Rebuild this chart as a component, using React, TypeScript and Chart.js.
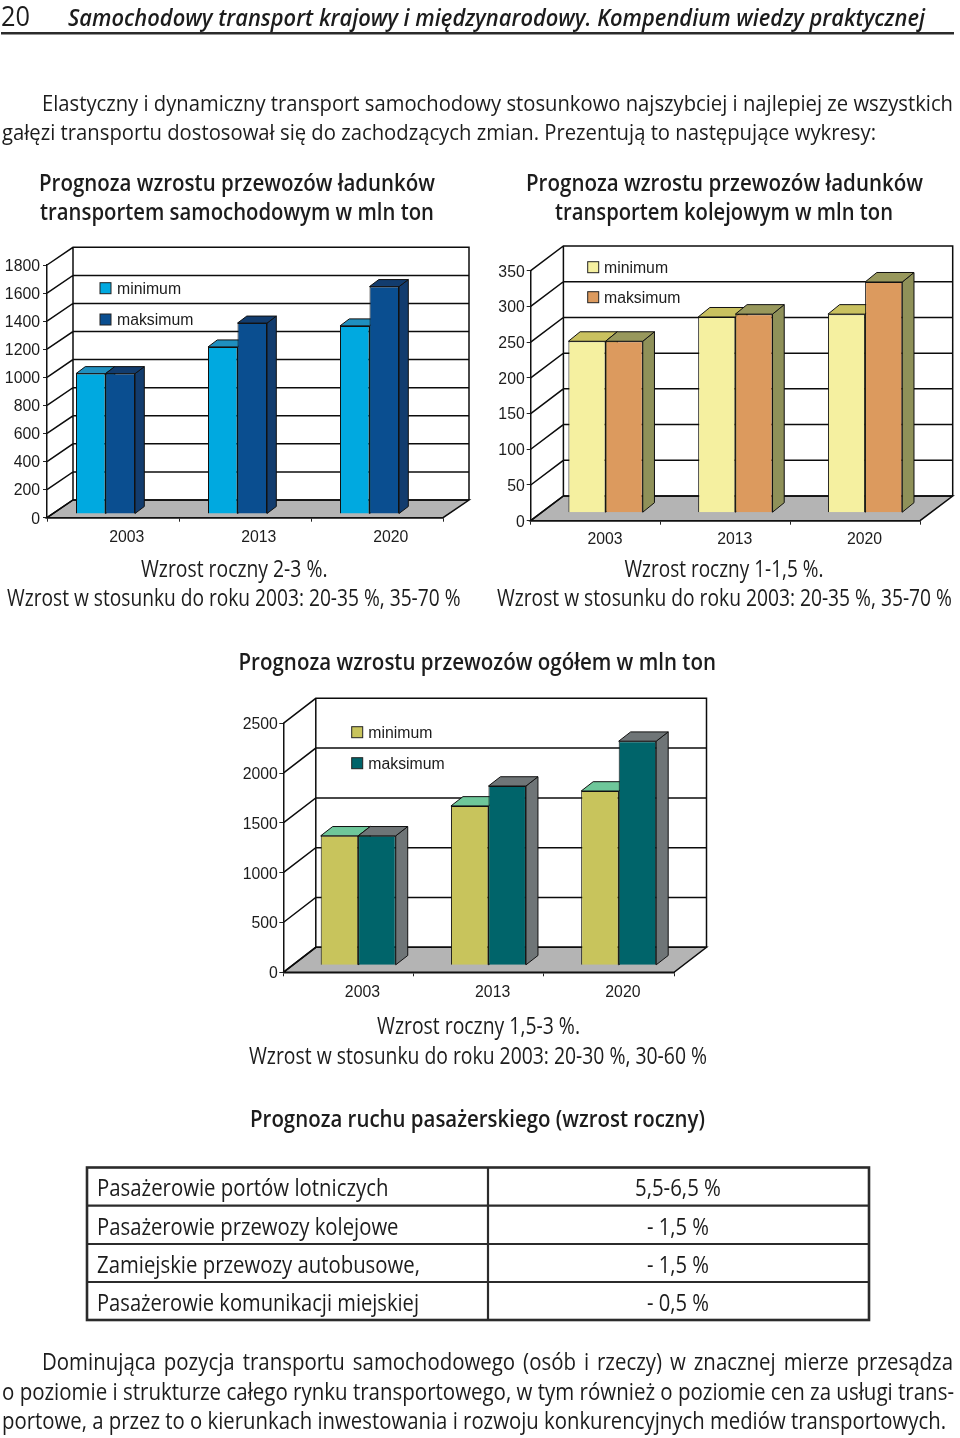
import React, { useEffect, useRef } from "react";
import { Chart, registerables } from "chart.js";

Chart.register(...registerables);

const years = ["2003", "2013", "2020"];
const seriesNames = ["minimum", "maksimum"];

const roadMin = [1000, 1190, 1340];
const roadMax = [1000, 1360, 1620];
const roadTicks = { max: 1800, step: 200 };

const railMin = [240, 274, 278];
const railMax = [240, 278, 323];
const railTicks = { max: 350, step: 50 };

const totalMin = [1300, 1600, 1750];
const totalMax = [1300, 1800, 2250];
const totalTicks = { max: 2500, step: 500 };

type Face = { front: string; top: string; side: string };

const depthPlugin = {
  id: "depth3d",
  beforeDraw(chart: any, _a: any, o: any) {
    const { ctx, chartArea: c, scales } = chart;
    const { dx, dy } = o.wall;
    ctx.save();
    ctx.fillStyle = "#fff";
    ctx.fillRect(0, 0, chart.width, chart.height);
    ctx.fillStyle = "#b4b4b4";
    ctx.strokeStyle = "#0c0c0c";
    ctx.lineWidth = 1.5;
    ctx.beginPath();
    ctx.moveTo(c.left, c.bottom);
    ctx.lineTo(c.left + dx, c.bottom + dy);
    ctx.lineTo(c.right + dx, c.bottom + dy);
    ctx.lineTo(c.right, c.bottom);
    ctx.closePath();
    ctx.fill();
    ctx.stroke();
    ctx.beginPath();
    ctx.moveTo(c.left + dx, c.top + dy);
    ctx.lineTo(c.right + dx, c.top + dy);
    ctx.lineTo(c.right + dx, c.bottom + dy);
    ctx.moveTo(c.left + dx, c.top + dy);
    ctx.lineTo(c.left + dx, c.bottom + dy);
    scales.y.ticks.forEach((_t: any, i: number) => {
      const y = scales.y.getPixelForTick(i);
      ctx.moveTo(c.left, y);
      ctx.lineTo(c.left + dx, y + dy);
      ctx.lineTo(c.right + dx, y + dy);
    });
    ctx.stroke();
    ctx.restore();
  },
  // Left-hand series first, so that each bar's front covers its neighbour's side.
  beforeDatasetsDraw(chart: any, _a: any, o: any) {
    const { ctx } = chart;
    const sx = o.side.x;
    const sy = o.side.y;
    ctx.save();
    ctx.translate(o.shift.x, o.shift.y);
    chart.getSortedVisibleDatasetMetas().forEach((meta: any) => {
      const ds = chart.data.datasets[meta.index];
      ctx.lineWidth = 1;
      ctx.strokeStyle = "#111";
      meta.data.forEach((el: any) => {
        const { x, y, width, base } = el.getProps(["x", "y", "width", "base"], true);
        const l = x - width / 2;
        const r = x + width / 2;
        ctx.fillStyle = ds.faces.side;
        ctx.beginPath();
        ctx.moveTo(r, y);
        ctx.lineTo(r + sx, y + sy);
        ctx.lineTo(r + sx, base + sy);
        ctx.lineTo(r, base);
        ctx.closePath();
        ctx.fill();
        ctx.stroke();
        ctx.fillStyle = ds.faces.top;
        ctx.beginPath();
        ctx.moveTo(l, y);
        ctx.lineTo(l + sx, y + sy);
        ctx.lineTo(r + sx, y + sy);
        ctx.lineTo(r, y);
        ctx.closePath();
        ctx.fill();
        ctx.stroke();
      });
      meta.controller.draw();
    });
    ctx.restore();
    return false;
  },
  afterDraw(chart: any, _a: any, o: any) {
    const { ctx } = chart;
    ctx.save();
    ctx.font = "15.8px 'Liberation Sans'";
    ctx.textBaseline = "middle";
    ctx.textAlign = "left";
    chart.data.datasets.forEach((ds: any, i: number) => {
      const y = o.legend.y[i];
      ctx.fillStyle = ds.backgroundColor;
      ctx.strokeStyle = "#222";
      ctx.lineWidth = 1;
      ctx.fillRect(o.legend.x, y, 11, 11);
      ctx.strokeRect(o.legend.x, y, 11, 11);
      ctx.fillStyle = "#1c1c1c";
      ctx.fillText(ds.label, o.legend.textX, y + 7);
    });
    ctx.restore();
  },
};

type Spec = {
  min: number[];
  max: number[];
  ticks: { max: number; step: number };
  minFace: Face;
  maxFace: Face;
  w: number;
  h: number;
  left: number;
  right: number;
  top: number;
  bottom: number;
  labelOffset: number;
  xPad: number;
  tickPad: number;
  groupShare: number;
  wall: { dx: number; dy: number };
  shift: { x: number; y: number };
  side: { x: number; y: number };
  legend: { x: number; textX: number; y: number[] };
};

function dataset(label: string, data: number[], f: Face, share: number) {
  return {
    label,
    data,
    faces: f,
    backgroundColor: f.front,
    borderColor: "#111",
    borderWidth: 1,
    categoryPercentage: share,
    barPercentage: 1,
    clip: false,
  };
}

function ChartBox({ spec, x, y }: { spec: Spec; x: number; y: number }) {
  const ref = useRef<HTMLCanvasElement>(null);
  useEffect(() => {
    const s = spec;
    const font = { family: "'Liberation Sans'", size: 15.8 };
    const chart = new Chart(ref.current!, {
      type: "bar",
      data: {
        labels: years,
        datasets: [
          dataset(seriesNames[0], s.min, s.minFace, s.groupShare),
          dataset(seriesNames[1], s.max, s.maxFace, s.groupShare),
        ] as any,
      },
      plugins: [depthPlugin],
      options: {
        animation: false,
        responsive: false,
        maintainAspectRatio: false,
        layout: { padding: { left: 0, top: s.top, right: s.w - s.right, bottom: 0 } },
        plugins: {
          legend: { display: false },
          tooltip: { enabled: false },
          depth3d: { wall: s.wall, shift: s.shift, side: s.side, legend: s.legend },
        } as any,
        scales: {
          x: {
            afterFit(scale: any) {
              scale.height = s.h - s.bottom;
              scale.paddingLeft = 0;
              scale.paddingRight = 0;
            },
            grid: { drawOnChartArea: false, drawTicks: true, tickLength: 4, color: "#222" },
            border: { display: true, color: "#111", width: 1.5 },
            ticks: {
              font,
              color: "#1c1c1c",
              padding: s.xPad,
              labelOffset: s.labelOffset,
              maxRotation: 0,
            },
          },
          y: {
            min: 0,
            max: s.ticks.max,
            afterFit(scale: any) {
              scale.width = s.left;
              scale.paddingTop = 0;
              scale.paddingBottom = 0;
            },
            grid: { drawOnChartArea: false, drawTicks: true, tickLength: 4, color: "#222" },
            border: { display: true, color: "#111", width: 1.5 },
            ticks: {
              stepSize: s.ticks.step,
              font,
              color: "#1c1c1c",
              padding: s.tickPad,
              labelOffset: 1.5,
              callback: (v: any) => String(v),
            },
          },
        },
      } as any,
    });
    return () => chart.destroy();
  }, [spec]);
  return (
    <canvas
      ref={ref}
      width={spec.w}
      height={spec.h}
      style={{ position: "absolute", left: x, top: y, width: spec.w, height: spec.h, filter: "blur(0.4px)" }}
    />
  );
}

const roadSpec: Spec = {
  min: roadMin,
  max: roadMax,
  ticks: roadTicks,
  minFace: { front: "#00a9e0", top: "#1f8fbf", side: "#1f8fbf" },
  maxFace: { front: "#0a4e90", top: "#123c6e", side: "#123c6e" },
  w: 480,
  h: 310,
  left: 47,
  right: 443,
  top: 25,
  bottom: 277.7,
  labelOffset: 13.7,
  xPad: 6.5,
  tickPad: 3,
  groupShare: 0.447,
  wall: { dx: 26, dy: -17.7 },
  shift: { x: -7.5, y: -3.7 },
  side: { x: 9.3, y: -7 },
  legend: { x: 100, textX: 117, y: [42.7, 74] },
};

const railSpec: Spec = {
  min: railMin,
  max: railMax,
  ticks: railTicks,
  minFace: { front: "#f5f0a0", top: "#c9c15f", side: "#c9c15f" },
  maxFace: { front: "#dc9a5e", top: "#98985c", side: "#8f9159" },
  w: 480,
  h: 310,
  left: 50.7,
  right: 440,
  top: 30.7,
  bottom: 280.7,
  labelOffset: 9.4,
  xPad: 5,
  tickPad: 2,
  groupShare: 0.573,
  wall: { dx: 32.7, dy: -24.7 },
  shift: { x: 10, y: -8 },
  side: { x: 11.7, y: -9.5 },
  legend: { x: 107.7, textX: 124, y: [21.7, 51.7] },
};

const totalSpec: Spec = {
  min: totalMin,
  max: totalMax,
  ticks: totalTicks,
  minFace: { front: "#c8c45c", top: "#6ec79a", side: "#6ec79a" },
  maxFace: { front: "#00646a", top: "#6f7577", side: "#6f7577" },
  w: 490,
  h: 315,
  left: 53.3,
  right: 444,
  top: 33.3,
  bottom: 282.3,
  labelOffset: 14,
  xPad: 6.5,
  tickPad: 1.5,
  groupShare: 0.576,
  wall: { dx: 32.5, dy: -25 },
  shift: { x: 9.8, y: -7 },
  side: { x: 12, y: -9.3 },
  legend: { x: 121.7, textX: 138.3, y: [36.7, 67.7] },
};

type Line = { t: string; x: number; end: number; y: number; s?: number; w?: number; i?: boolean; ws?: number };

const lines: Line[] = [
  { t: "20", x: 1, end: 30, y: 26, s: 27 },
  { t: "Samochodowy transport krajowy i międzynarodowy. Kompendium wiedzy praktycznej", x: 68, end: 925, y: 26, s: 23, w: 600, i: true },
  { t: "Elastyczny i dynamiczny transport samochodowy stosunkowo najszybciej i najlepiej ze wszystkich", x: 42, end: 953, y: 110.5 },
  { t: "gałęzi transportu dostosował się do zachodzących zmian. Prezentują to następujące wykresy:", x: 2, end: 876, y: 139.5 },
  { t: "Prognoza wzrostu przewozów ładunków", x: 39, end: 435, y: 190.5, w: 600, s: 23 },
  { t: "transportem samochodowym w mln ton", x: 40, end: 434, y: 220, w: 600, s: 23 },
  { t: "Prognoza wzrostu przewozów ładunków", x: 526, end: 923, y: 190.5, w: 600, s: 23 },
  { t: "transportem kolejowym w mln ton", x: 555, end: 893, y: 220, w: 600, s: 23 },
  { t: "Wzrost roczny 2-3 %.", x: 141, end: 327.5, y: 577, s: 23 },
  { t: "Wzrost w stosunku do roku 2003: 20-35 %, 35-70 %", x: 7, end: 460.5, y: 605.5, s: 23 },
  { t: "Wzrost roczny 1-1,5 %.", x: 624.5, end: 823.5, y: 577, s: 23 },
  { t: "Wzrost w stosunku do roku 2003: 20-35 %, 35-70 %", x: 497, end: 952, y: 605.5, s: 23 },
  { t: "Prognoza wzrostu przewozów ogółem w mln ton", x: 238.5, end: 716, y: 670, w: 600, s: 23.5 },
  { t: "Wzrost roczny 1,5-3 %.", x: 377, end: 580, y: 1034, s: 23 },
  { t: "Wzrost w stosunku do roku 2003: 20-30 %, 30-60 %", x: 249, end: 707, y: 1064, s: 23 },
  { t: "Prognoza ruchu pasażerskiego (wzrost roczny)", x: 250, end: 705, y: 1127, w: 600, s: 24 },
  { t: "Pasażerowie portów lotniczych", x: 97, end: 388.5, y: 1196, s: 23.5 },
  { t: "Pasażerowie przewozy kolejowe", x: 97, end: 398.5, y: 1234.5, s: 23.5 },
  { t: "Zamiejskie przewozy autobusowe,", x: 97, end: 420, y: 1272.5, s: 23.5 },
  { t: "Pasażerowie komunikacji miejskiej", x: 97, end: 419, y: 1310.5, s: 23.5 },
  { t: "5,5-6,5 %", x: 635, end: 721, y: 1196, s: 23.5 },
  { t: "- 1,5 %", x: 647, end: 709, y: 1234.5, s: 23.5 },
  { t: "- 1,5 %", x: 647, end: 709, y: 1272.5, s: 23.5 },
  { t: "- 0,5 %", x: 647, end: 709, y: 1310.5, s: 23.5 },
  { t: "Dominująca pozycja transportu samochodowego (osób i rzeczy) w znacznej mierze przesądza", x: 42, end: 953, y: 1370, ws: 3, s: 23 },
  { t: "o poziomie i strukturze całego rynku transportowego, w tym również o poziomie cen za usługi trans-", x: 2, end: 954, y: 1399.5, s: 23 },
  { t: "portowe, a przez to o kierunkach inwestowania i rozwoju konkurencyjnych mediów transportowych.", x: 2, end: 946, y: 1428.5, s: 23 },
];

const tableRowRules = [1205.7, 1244, 1282];

export default function App() {
  return (
    <div style={{ position: "absolute", left: 0, top: 0, width: 960, height: 1438, background: "#fff", overflow: "hidden" }}>
      <ChartBox spec={roadSpec} x={0} y={240} />
      <ChartBox spec={railSpec} x={480} y={240} />
      <ChartBox spec={totalSpec} x={230} y={690} />
      <svg width={960} height={1438} style={{ position: "absolute", left: 0, top: 0, pointerEvents: "none" }}>
        <rect x={1} y={32} width={953} height={2.5} fill="#2b2b2b" />
        <rect x={87} y={1167.5} width={782} height={152.5} fill="none" stroke="#2b2b2b" strokeWidth={2.6} />
        {tableRowRules.map((y) => (
          <line key={y} x1={87} x2={869} y1={y} y2={y} stroke="#2b2b2b" strokeWidth={2.2} />
        ))}
        <line x1={488} x2={488} y1={1167.5} y2={1320} stroke="#2b2b2b" strokeWidth={2.2} />
        {lines.map((l, i) => (
          <text
            key={i}
            x={l.x}
            y={l.y}
            textLength={l.end - l.x}
            lengthAdjust="spacingAndGlyphs"
            fill="#1c1c1c"
            style={{
              fontFamily: "'Open Sans'",
              fontSize: l.s ?? 22,
              fontWeight: l.w ?? 400,
              fontStyle: l.i ? "italic" : "normal",
              wordSpacing: l.ws ?? 0,
            }}
          >
            {l.t}
          </text>
        ))}
      </svg>
    </div>
  );
}
